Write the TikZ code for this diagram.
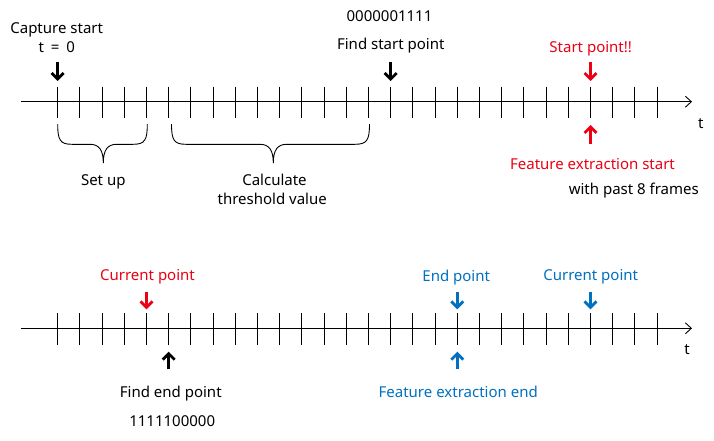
\documentclass[tikz,border=0pt]{standalone}
\usepackage{fontspec}
\setmainfont{Noto Sans}
\usetikzlibrary{arrows.meta}
\definecolor{myred}{RGB}{235,0,20}
\definecolor{myblue}{RGB}{0,112,192}
\begin{document}
\begin{tikzpicture}[x=1pt,y=-1pt,
  lbl/.style={inner sep=0pt,anchor=base,font=\fontsize{15}{18}\selectfont},
  axisline/.style={line width=0.9pt,-{Straight Barb[length=6pt,width=11pt,line width=0.9pt]}},
  tick/.style={line width=0.9pt},
  brc/.style={line width=0.9pt},
  marker/.style={line width=2.8pt,-{Straight Barb[length=6pt,width=12pt,line width=2.8pt]}},
]
\useasboundingbox (0,0) rectangle (714,440);
% axes
\coordinate (ta0) at (21,101.7);
\coordinate (ta1) at (692,101.7);
\coordinate (ba0) at (21,328.3);
\coordinate (ba1) at (692,328.3);
\draw[axisline] (ta0) -- (ta1);
\draw[axisline] (ba0) -- (ba1);
\foreach \i in {0,...,27}{
  \coordinate (tt\i a) at ({57.7+22.2*\i},86.7);
  \coordinate (tt\i b) at ({57.7+22.2*\i},118.3);
  \coordinate (bt\i a) at ({57.7+22.2*\i},313.3);
  \coordinate (bt\i b) at ({57.7+22.2*\i},345);
  \draw[tick] (tt\i a) -- (tt\i b);
  \draw[tick] (bt\i a) -- (bt\i b);
}
\node[lbl] (t1) at (700.7,128) {t};
\node[lbl] (t2) at (687,354) {t};

% top labels
\node[lbl] (cap) at (56.7,33.3) {Capture start};
\node[lbl] (t0) at (56.7,52) {t\hspace{3pt} = \hspace{3pt}0};
\node[lbl] (bits1) at (389.5,21) {0000001111};
\node[lbl] (fsp) at (390.8,49.3) {Find start point};
\node[lbl,text=myred] (sp) at (590.7,52.5) {Start point!!};
\node[lbl,text=myred] (fes) at (592.5,169.3) {Feature extraction start};
\node[lbl] (wp) at (633.8,194.3) {with past 8 frames};
\node[lbl] (su) at (103.3,185.7) {Set up};
\node[lbl] (calc) at (274.5,185.3) {Calculate};
\node[lbl] (thr) at (272.2,204) {threshold value};

% top arrows
\coordinate (m1a) at (57.7,62.3);  \coordinate (m1b) at (57.7,81);
\coordinate (m2a) at (390.7,62.3); \coordinate (m2b) at (390.7,81);
\coordinate (m3a) at (590.5,62.3); \coordinate (m3b) at (590.5,81);
\coordinate (m4a) at (590.5,144.3); \coordinate (m4b) at (590.5,125);
\draw[marker] (m1a) -- (m1b);
\draw[marker] (m2a) -- (m2b);
\draw[marker,myred] (m3a) -- (m3b);
\draw[marker,myred] (m4a) -- (m4b);

% braces
\draw[brc] (57.7,124) .. controls (57.7,140) and (60,144.3) .. (72,144.3)
  -- (90,144.3) .. controls (99,144.3) and (103.3,150) .. (103.3,163)
  .. controls (103.3,150) and (107.6,144.3) .. (116.6,144.3)
  -- (133,144.3) .. controls (145,144.3) and (147.3,140) .. (147.3,124);
\draw[brc] (171.5,124) .. controls (171.5,140) and (174,144.3) .. (186,144.3)
  -- (260,144.3) .. controls (269,144.3) and (273.3,150) .. (273.3,163)
  .. controls (273.3,150) and (277.6,144.3) .. (286.6,144.3)
  -- (355,144.3) .. controls (367,144.3) and (369.5,140) .. (369.5,124);

% bottom labels
\node[lbl,text=myred] (cp1) at (147.5,280) {Current point};
\node[lbl] (fep) at (170.8,397.3) {Find end point};
\node[lbl] (bits2) at (172.2,426) {1111100000};
\node[lbl,text=myblue] (ep) at (456.2,281) {End point};
\node[lbl,text=myblue] (cp2) at (590.7,280) {Current point};
\node[lbl,text=myblue] (fee) at (458.2,397.3) {Feature extraction end};

% bottom arrows
\coordinate (n1a) at (146.5,291.7); \coordinate (n1b) at (146.5,309.3);
\coordinate (n2a) at (168.7,369.3); \coordinate (n2b) at (168.7,351.7);
\coordinate (n3a) at (457.3,291.7); \coordinate (n3b) at (457.3,309.3);
\coordinate (n4a) at (457.3,369.3); \coordinate (n4b) at (457.3,351.7);
\coordinate (n5a) at (590.5,291.7); \coordinate (n5b) at (590.5,309.3);
\draw[marker,myred] (n1a) -- (n1b);
\draw[marker] (n2a) -- (n2b);
\draw[marker,myblue] (n3a) -- (n3b);
\draw[marker,myblue] (n4a) -- (n4b);
\draw[marker,myblue] (n5a) -- (n5b);
\end{tikzpicture}
\end{document}
